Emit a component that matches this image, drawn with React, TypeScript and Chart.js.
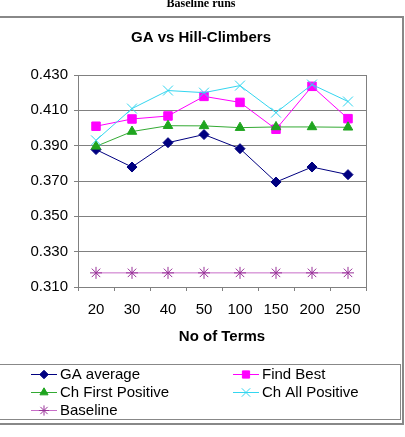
import React, { useEffect, useRef } from "react";
import { Chart, registerables } from "chart.js";
import { drawPoint } from "chart.js/helpers";

Chart.register(...registerables);

// Category labels (number of terms) and series values
const terms = ["20", "30", "40", "50", "100", "150", "200", "250"];
const gaAverage = [0.3878, 0.3779, 0.3917, 0.3963, 0.3883, 0.3694, 0.3779, 0.3736];
const findBest = [0.401, 0.4051, 0.4068, 0.4179, 0.4145, 0.3993, 0.4236, 0.4053];
const chFirstPositive = [0.3896, 0.398, 0.4013, 0.4012, 0.4002, 0.4006, 0.4006, 0.4004];
const chAllPositive = [0.393, 0.411, 0.4212, 0.42, 0.424, 0.4087, 0.4246, 0.415];
const baseline = [0.318, 0.318, 0.318, 0.318, 0.318, 0.318, 0.318, 0.318];

const yMin = 0.31;
const yMax = 0.43;
const yStep = 0.02;

const pageTitle = "Baseline runs";
const chartTitle = "GA vs Hill-Climbers";
const xTitle = "No of Terms";

type SeriesStyle = {
  label: string;
  data: number[];
  line: string;
  fill: string;
  stroke: string;
  pointStyle: string;
  radius: number;
};

const series: SeriesStyle[] = [
  { label: "GA average", data: gaAverage, line: "#000080", fill: "#000080", stroke: "#000080", pointStyle: "rectRot", radius: 5 },
  { label: "Find Best", data: findBest, line: "#ff00ff", fill: "#ff00ff", stroke: "#ff00ff", pointStyle: "rect", radius: 6 },
  { label: "Ch First Positive", data: chFirstPositive, line: "#33aa33", fill: "#1fa51f", stroke: "#1fa51f", pointStyle: "triangle", radius: 5.5 },
  { label: "Ch All Positive", data: chAllPositive, line: "#33d6f0", fill: "#33d6f0", stroke: "#33d6f0", pointStyle: "crossRot", radius: 7 },
  { label: "Baseline", data: baseline, line: "#c86ec8", fill: "#993399", stroke: "#993399", pointStyle: "star", radius: 6 },
];

const SANS = "'Liberation Sans', Arial, sans-serif";
const SERIF = "'Liberation Serif', 'Times New Roman', serif";
const GRID = "#808080";

const framePlugin = {
  id: "frame",
  beforeDraw(chart: any) {
    const ctx = chart.ctx;
    ctx.save();
    ctx.fillStyle = "#ffffff";
    ctx.fillRect(0, 0, chart.width, chart.height);
    ctx.restore();
  },
  afterDraw(chart: any) {
    const ctx = chart.ctx;
    const area = chart.chartArea;
    ctx.save();

    // heading above the chart frame
    ctx.fillStyle = "#000";
    ctx.font = `bold 12px ${SERIF}`;
    ctx.textAlign = "center";
    ctx.textBaseline = "alphabetic";
    ctx.fillText(pageTitle, 201, 6.5);

    // outer frame
    ctx.strokeStyle = "#888";
    ctx.lineWidth = 2;
    ctx.strokeRect(-2, 17, 405, 407);

    // right edge of the plot area
    ctx.strokeStyle = GRID;
    ctx.lineWidth = 1;
    ctx.beginPath();
    ctx.moveTo(Math.round(area.right) + 0.5, area.top);
    ctx.lineTo(Math.round(area.right) + 0.5, area.bottom);
    ctx.stroke();

    // chart title and axis title
    ctx.fillStyle = "#000";
    ctx.font = `bold 15px ${SANS}`;
    ctx.textAlign = "center";
    ctx.textBaseline = "middle";
    ctx.fillText(chartTitle, 201, 38);
    ctx.fillText(xTitle, (area.left + area.right) / 2, 337);

    // legend box
    ctx.strokeStyle = "#888";
    ctx.lineWidth = 1;
    ctx.strokeRect(-2, 364.5, 402.5, 55);

    const cols = [31, 233];
    const rows = [374, 392, 410];
    series.forEach((s, i) => {
      const cx = cols[i % 2];
      const cy = rows[Math.floor(i / 2)];
      ctx.strokeStyle = s.line;
      ctx.lineWidth = 1;
      ctx.beginPath();
      ctx.moveTo(cx, cy + 0.5);
      ctx.lineTo(cx + 26, cy + 0.5);
      ctx.stroke();
      ctx.fillStyle = s.fill;
      ctx.strokeStyle = s.stroke;
      drawPoint(ctx, { pointStyle: s.pointStyle, radius: s.radius * 0.85, rotation: 0, borderWidth: 1 } as any, cx + 13, cy + 0.5);
      ctx.fillStyle = "#000";
      ctx.font = `15px ${SANS}`;
      ctx.textAlign = "left";
      ctx.textBaseline = "middle";
      ctx.fillText(s.label, cx + 29, cy + 1);
    });

    ctx.restore();
  },
};

export default function App() {
  const canvasRef = useRef<HTMLCanvasElement | null>(null);

  useEffect(() => {
    if (!canvasRef.current) return;
    const chart = new Chart(canvasRef.current, {
      type: "line",
      data: {
        labels: terms,
        datasets: series.map((s, i) => ({
          label: s.label,
          data: s.data,
          borderColor: s.line,
          backgroundColor: s.fill,
          borderWidth: 1,
          pointStyle: s.pointStyle as any,
          pointRadius: s.radius,
          pointBackgroundColor: s.fill,
          pointBorderColor: s.stroke,
          pointBorderWidth: 1,
          tension: 0,
          fill: false,
          order: series.length - i,
        })),
      },
      options: {
        animation: false,
        responsive: false,
        devicePixelRatio: 1,
        events: [],
        layout: { padding: { left: 0, top: 75, right: 39, bottom: 0 } },
        plugins: {
          legend: { display: false },
          title: { display: false },
          tooltip: { enabled: false },
        },
        scales: {
          x: {
            type: "category",
            offset: true,
            grid: {
              offset: true,
              drawOnChartArea: false,
              drawTicks: true,
              tickLength: 4,
              color: GRID,
            },
            border: { display: true, color: GRID },
            ticks: {
              color: "#000",
              padding: 10,
              maxRotation: 0,
              autoSkip: false,
              font: { family: SANS, size: 15 },
            },
            afterFit: (scale: any) => {
              scale.height = 150;
            },
          },
          y: {
            min: yMin,
            max: yMax,
            grid: {
              color: GRID,
              drawTicks: true,
              tickLength: 4,
            },
            border: { display: true, color: GRID },
            ticks: {
              stepSize: yStep,
              color: "#000",
              padding: 6,
              font: { family: SANS, size: 15 },
              callback: (v: any) => Number(v).toFixed(3),
            },
            afterFit: (scale: any) => {
              scale.width = 78;
            },
          },
        },
      },
      plugins: [framePlugin],
    });
    return () => chart.destroy();
  }, []);

  return (
    <div style={{ position: "absolute", left: 0, top: 0, width: 405, height: 437, background: "#fff" }}>
      <canvas ref={canvasRef} width={405} height={437} style={{ display: "block", width: 405, height: 437 }} />
    </div>
  );
}
